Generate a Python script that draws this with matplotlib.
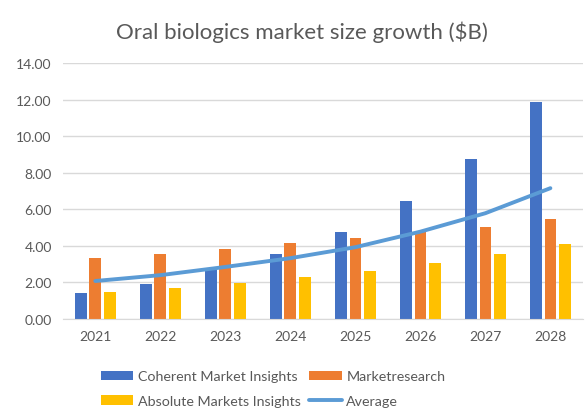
import matplotlib.pyplot as plt
import numpy as np

plt.rcParams['font.family'] = ['Lato', 'DejaVu Sans']

years = ['2021', '2022', '2023', '2024', '2025', '2026', '2027', '2028']
coherent = [1.41, 1.92, 2.74, 3.56, 4.76, 6.48, 8.76, 11.90]
marketresearch = [3.34, 3.56, 3.83, 4.14, 4.41, 4.78, 5.05, 5.47]
absolute = [1.48, 1.72, 1.97, 2.28, 2.63, 3.07, 3.56, 4.12]
average = [2.08, 2.40, 2.85, 3.33, 3.93, 4.78, 5.79, 7.16]

grey = '#595959'
fig = plt.figure(figsize=(5.87, 4.14), dpi=100)
ax = fig.add_axes([0.107, 0.227, 0.886, 0.618])

x = np.arange(len(years))
w = 0.18
step = 0.224
b1 = ax.bar(x - step, coherent, w, color='#4472C4', label='Coherent Market Insights', zorder=2)
b2 = ax.bar(x, marketresearch, w, color='#ED7D31', label='Marketresearch', zorder=2)
b3 = ax.bar(x + step, absolute, w, color='#FFC000', label='Absolute Markets Insights', zorder=2)
ln, = ax.plot(x, average, color='#5B9BD5', lw=2.8, label='Average', zorder=3,
              solid_capstyle='round')

ax.set_xlim(-0.5, 7.5)
ax.set_ylim(0, 14)
ax.set_yticks(np.arange(0, 14.1, 2))
ax.set_yticklabels(['%.2f' % v for v in np.arange(0, 14.1, 2)])
ax.set_xticks(x)
ax.set_xticklabels(years)
ax.tick_params(length=0, labelsize=10, colors=grey, pad=8)
ax.grid(axis='y', color='#D9D9D9', lw=1, zorder=0)
for s in ['top', 'right', 'left']:
    ax.spines[s].set_visible(False)
ax.spines['bottom'].set_color('#D9D9D9')

fig.text(0.515, 0.922, 'Oral biologics market size growth ($B)', ha='center', va='center',
         fontsize=16, color=grey)

fig.legend(handles=[b1, b3, b2, ln], ncol=2, loc='center', bbox_to_anchor=(0.465, 0.059),
           frameon=False, fontsize=10.3, labelcolor=grey, handlelength=2.3,
           handletextpad=0.3, columnspacing=0.6, labelspacing=0.9, handleheight=0.6)

fig.savefig('out.png', dpi=100)
